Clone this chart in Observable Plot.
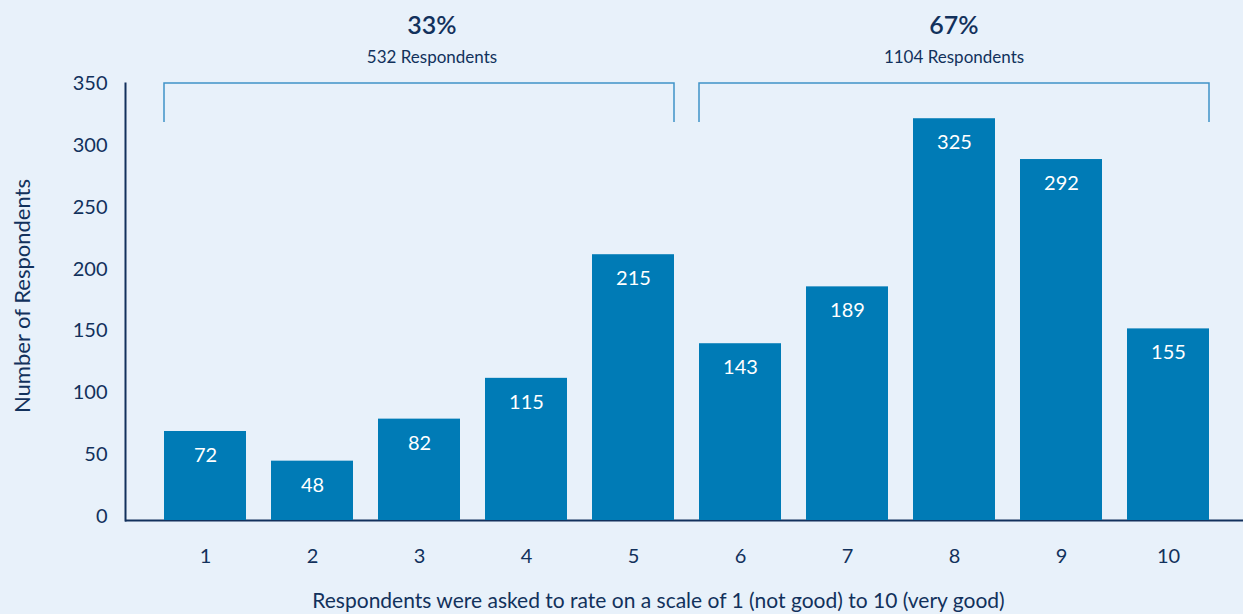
<!DOCTYPE html>
<html><head><meta charset="utf-8">
<script src="https://cdn.jsdelivr.net/npm/d3@7"></script>
<script src="https://cdn.jsdelivr.net/npm/@observablehq/plot@0.6"></script>
<style>
html,body{margin:0;padding:0;background:#e8f1fa;}
#chart svg{display:block;}
</style></head><body><div id="chart"></div>
<script>
const ratings = ["1","2","3","4","5","6","7","8","9","10"];
const counts = [72,48,82,115,215,143,189,325,292,155];
const groupPct = ["33%","67%"];
const groupRespondents = ["532 Respondents","1104 Respondents"];
const groupFrom = ["1","6"];
const groupTo = ["5","10"];
const yTicks = [0,50,100,150,200,250,300,350];
const yTitle = "Number of Respondents";
const xTitle = "Respondents were asked to rate on a scale of 1 (not good) to 10 (very good)";
const yMax = 353.5;
const bracketLegBottom = 322;

const data = ratings.map((r,i)=>({rating:r,count:counts[i]}));
const groups = groupPct.map((p,i)=>({pct:p, resp:groupRespondents[i], from:groupFrom[i], to:groupTo[i]}));

const navy = "#12315c";
const barColor = "#007bb6";
const bracketColor = "#3f93c8";
const font = "Lato, 'Open Sans', sans-serif";
const headerShift = [13, 0];

const chart = Plot.plot({
  width:1243, height:614, marginTop:83, marginBottom:94, marginLeft:125, marginRight:0,
  style:{background:"transparent", fontFamily:font, color:navy, overflow:"visible"},
  x:{domain:ratings, range:[164,1209], paddingInner:0.234, paddingOuter:0, label:null},
  y:{domain:[0,yMax], label:null},
  marks:[
    Plot.frame({anchor:"left", stroke:navy, strokeWidth:2}),
    Plot.ruleY([0], {stroke:navy, strokeWidth:2}),
    Plot.barY(data,{x:"rating", y:"count", fill:barColor}),
    Plot.text(data,{x:"rating", y:"count", text:d=>String(d.count), dy:24, fill:"white", fontSize:20}),
    Plot.axisY({ticks:yTicks, tickSize:0, tickPadding:18, fontSize:20, dy:-4, label:null}),
    Plot.axisX({tickSize:0, tickPadding:28, fontSize:20, label:null}),
    Plot.text([yTitle], {text:d=>d, frameAnchor:"left", rotate:-90, dx:-103, dy:-6, fontSize:22, fill:navy, lineAnchor:"middle", textAnchor:"middle"}),
    Plot.text([xTitle], {text:d=>d, frameAnchor:"bottom", dx:-26, dy:81, fontSize:21, fill:navy, lineAnchor:"middle", textAnchor:"middle"})
  ]
});
document.getElementById("chart").append(chart);

const sx = chart.scale("x"), sy = chart.scale("y");
const svg = d3.select(chart);
const gB = svg.append("g").attr("aria-label","brackets");
groups.forEach((g,i)=>{
  const x1 = sx.apply(g.from), x2 = sx.apply(g.to) + sx.bandwidth;
  const yt = sy.apply(yMax), yb = sy.apply(bracketLegBottom);
  gB.append("path")
    .attr("d", `M${x1},${yb}V${yt}H${x2}V${yb}`)
    .attr("fill","none").attr("stroke",bracketColor).attr("stroke-width",1.5);
  const cx = (x1+x2)/2 + headerShift[i];
  gB.append("text").attr("x",cx).attr("y",yt-49).attr("text-anchor","middle")
    .attr("font-family",font).attr("font-size",25).attr("font-weight",600).attr("fill",navy).text(g.pct);
  gB.append("text").attr("x",cx).attr("y",yt-20).attr("text-anchor","middle")
    .attr("font-family",font).attr("font-size",17).attr("fill",navy).text(g.resp);
});
</script></body></html>
